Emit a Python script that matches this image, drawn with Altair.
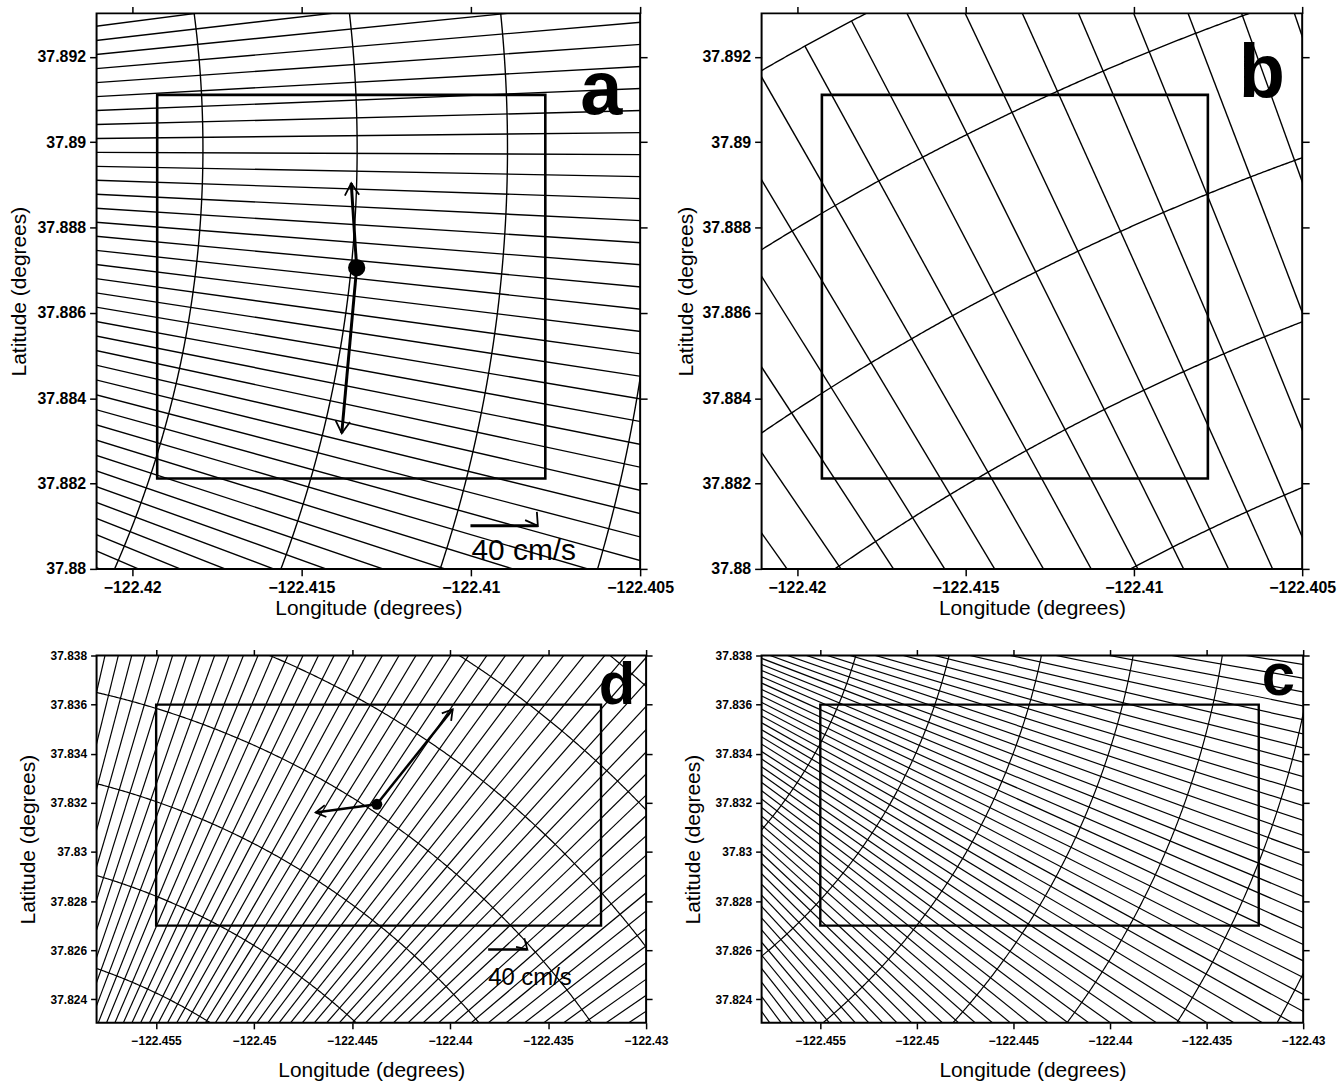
import math
import numpy as np
import pandas as pd
import altair as alt

FONT = "Liberation Sans"

# ---------------- frames and ticks ----------------
AB_LON_DOMAIN = [-122.42105, -122.40500]
AB_LAT_DOMAIN = [37.88000, 37.89302]
AB_LON_TICKS = [-122.42, -122.415, -122.41, -122.405]
AB_LAT_TICKS = [37.88, 37.882, 37.884, 37.886, 37.888, 37.89, 37.892]

CD_LON_DOMAIN = [-122.45804, -122.43000]
CD_LAT_DOMAIN = [37.82304, 37.83800]
CD_LON_TICKS = [-122.455, -122.45, -122.445, -122.44, -122.435, -122.43]
CD_LAT_TICKS = [37.824, 37.826, 37.828, 37.83, 37.832, 37.834, 37.836, 37.838]

# analysis boxes
AB_BOX_LON = [-122.41926, -122.40780]
AB_BOX_LAT = [37.88212, 37.89111]
CD_BOX_LON = [-122.45500, -122.43230]
CD_BOX_LAT = [37.82700, 37.83600]

# radar grids: site (lon, lat), range rings (km), beams (first bearing, step, count), beam length (km)
SITE_A = [-122.44887, 37.88985]
RINGS_A = [2.72, 3.12, 3.51, 3.90]
BEAMS_A = [82.58, 0.85, 38]
BEAM_LEN_A = 12.0

SITE_B = [-122.38087, 37.83617]
RINGS_B = [5.50, 5.90, 6.30, 6.70, 7.10]
BEAMS_B = [324.52, 1.115, 16]
BEAM_LEN_B = 7.10

SITE_C = [-122.47630, 37.84338]
RINGS_C = [2.12, 2.53, 2.94, 3.35, 3.75, 4.16, 4.55]
BEAMS_C = [98.90, 0.85, 55]
BEAM_LEN_C = 12.0

SITE_D = [-122.46756, 37.80364]
RINGS_D = [2.54, 2.94, 3.34, 3.74, 4.14, 4.54, 4.94]
BEAMS_D = [12.93, 0.85, 53]
BEAM_LEN_D = 12.0

# current vectors (panel a and d)
VEC_A_BASE = [-122.41337, 37.88706]
VEC_A_TIP_LON = [-122.41353, -122.41381]
VEC_A_TIP_LAT = [37.88904, 37.88318]
SCALE_A_LON = [-122.41001, -122.40802]
SCALE_A_LAT = [37.88101, 37.88101]
SCALE_A_TEXT = [-122.40998, 37.88043]

VEC_D_BASE = [-122.44374, 37.83194]
VEC_D_TIP_LON = [-122.43987, -122.44686]
VEC_D_TIP_LAT = [37.83581, 37.83161]
SCALE_D_LON = [-122.43806, -122.43606]
SCALE_D_LAT = [37.82603, 37.82603]
SCALE_D_TEXT = [-122.43806, 37.82488]

SCALE_LABEL = "40 cm/s"

LETTERS = {"a": [-122.40615, 37.89065], "b": [-122.40620, 37.89107],
           "c": [-122.43129, 37.83640], "d": [-122.43149, 37.83602]}

CHEVRON = "M-1,-0.6L0,0L-1,0.6"


def to_lonlat(site, r_km, bearing_deg):
    lon0, lat0 = site
    b = np.radians(bearing_deg)
    dx = r_km * np.sin(b)
    dy = r_km * np.cos(b)
    lon = lon0 + dx / (111.32 * math.cos(math.radians(lat0)))
    lat = lat0 + dy / 110.95
    return lon, lat


def grid_frames(site, rings, beams, beam_len):
    start, step, count = beams
    bearings = [start + i * step for i in range(count)]
    rows = []
    for bb in bearings:
        l1, a1 = to_lonlat(site, 0.0, bb)
        l2, a2 = to_lonlat(site, beam_len, bb)
        rows.append({"lon": float(l1), "lat": float(a1), "lon2": float(l2), "lat2": float(a2)})
    rad = pd.DataFrame(rows)
    arcs = []
    span = np.linspace(bearings[0] - 0.5, bearings[-1] + 0.5, 400)
    for k, r in enumerate(rings):
        lo, la = to_lonlat(site, r, span)
        for i in range(len(span)):
            arcs.append({"lon": float(lo[i]), "lat": float(la[i]), "ring": k, "idx": i})
    return rad, pd.DataFrame(arcs)


def screen_angle(base, tip_lon, tip_lat, W, H, lon_dom, lat_dom):
    sx = W / (lon_dom[1] - lon_dom[0])
    sy = H / (lat_dom[1] - lat_dom[0])
    out = []
    for tl, ta in zip(tip_lon, tip_lat):
        dx = (tl - base[0]) * sx
        dy = -(ta - base[1]) * sy
        out.append((math.degrees(math.atan2(dy, dx)) + 360.0) % 360.0)
    return out


def make_panel(W, H, lon_dom, lat_dom, lon_ticks, lat_ticks, site, rings, beams, beam_len,
               box_lon, box_lat, letter, letter_size, st, vec=None):
    xs = alt.Scale(domain=lon_dom, nice=False, zero=False)
    ys = alt.Scale(domain=lat_dom, nice=False, zero=False)
    common = dict(domain=False, grid=False, tickColor="black", tickWidth=1.5,
                  tickSize=st["tick"], labelColor="black", labelFont=FONT,
                  labelFontWeight="bold", labelFontSize=st["lab"], titleFont=FONT,
                  titleFontWeight="normal", titleFontSize=21, titleColor="black",
                  format="~f", labelOverlap=False)
    x_axis = alt.Axis(orient="bottom", values=lon_ticks, title="Longitude (degrees)",
                      labelPadding=st["xlp"], titlePadding=st["xtp"], labelFlush=False, **common)
    y_axis = alt.Axis(orient="left", values=lat_ticks, title="Latitude (degrees)",
                      labelPadding=st["ylp"], titlePadding=st["ytp"], **common)
    mirror = dict(domain=False, grid=False, labels=False, tickColor="black", tickWidth=1.5,
                  tickSize=st["tick"], title=None)
    x_top = alt.Axis(orient="top", values=lon_ticks, **mirror)
    y_right = alt.Axis(orient="right", values=lat_ticks, **mirror)

    rad, arcs = grid_frames(site, rings, beams, beam_len)
    layers = []
    layers.append(alt.Chart(rad).mark_rule(clip=True, color="black", strokeWidth=st["lw"]).encode(
        x=alt.X("lon:Q", scale=xs, axis=x_axis),
        y=alt.Y("lat:Q", scale=ys, axis=y_axis),
        x2="lon2:Q", y2="lat2:Q"))
    layers.append(alt.Chart(arcs).mark_line(clip=True, color="black", strokeWidth=st["lw"]).encode(
        x=alt.X("lon:Q", scale=xs, axis=None),
        y=alt.Y("lat:Q", scale=ys, axis=None),
        detail="ring:N", order="idx:Q"))
    box = pd.DataFrame({"lon": [box_lon[0]], "lon2": [box_lon[1]],
                        "lat": [box_lat[0]], "lat2": [box_lat[1]]})
    layers.append(alt.Chart(box).mark_rect(fillOpacity=0, stroke="black", strokeWidth=st["box"]).encode(
        x=alt.X("lon:Q", scale=xs, axis=None), x2="lon2:Q",
        y=alt.Y("lat:Q", scale=ys, axis=None), y2="lat2:Q"))
    layers.append(alt.Chart(box).mark_point(opacity=0).encode(
        x=alt.X("lon:Q", scale=xs, axis=x_top),
        y=alt.Y("lat:Q", scale=ys, axis=y_right)))

    if vec is not None:
        base, tip_lon, tip_lat, s_lon, s_lat, s_txt, vw, head, dot, fs = vec
        shafts = pd.DataFrame({"lon": [base[0]] * len(tip_lon) + [s_lon[0]],
                               "lat": [base[1]] * len(tip_lon) + [s_lat[0]],
                               "lon2": list(tip_lon) + [s_lon[1]],
                               "lat2": list(tip_lat) + [s_lat[1]]})
        layers.append(alt.Chart(shafts).mark_rule(color="black", strokeWidth=vw).encode(
            x=alt.X("lon:Q", scale=xs, axis=None), x2="lon2:Q",
            y=alt.Y("lat:Q", scale=ys, axis=None), y2="lat2:Q"))
        angs = screen_angle(base, list(tip_lon) + [s_lon[1]], list(tip_lat) + [s_lat[1]],
                            W, H, lon_dom, lat_dom)
        heads = pd.DataFrame({"lon": list(tip_lon) + [s_lon[1]],
                              "lat": list(tip_lat) + [s_lat[1]], "ang": angs})
        layers.append(alt.Chart(heads).mark_point(shape=CHEVRON, filled=False, stroke="black",
                                                  strokeWidth=1.8, size=head, opacity=1).encode(
            x=alt.X("lon:Q", scale=xs, axis=None),
            y=alt.Y("lat:Q", scale=ys, axis=None),
            angle=alt.Angle("ang:Q", scale=None)))
        dots = pd.DataFrame({"lon": [base[0]], "lat": [base[1]]})
        layers.append(alt.Chart(dots).mark_point(shape="circle", filled=True, color="black",
                                                 size=dot, opacity=1).encode(
            x=alt.X("lon:Q", scale=xs, axis=None),
            y=alt.Y("lat:Q", scale=ys, axis=None)))
        txt = pd.DataFrame({"lon": [s_txt[0]], "lat": [s_txt[1]], "t": [SCALE_LABEL]})
        layers.append(alt.Chart(txt).mark_text(font=FONT, fontSize=fs, align="left",
                                               baseline="middle", color="black").encode(
            x=alt.X("lon:Q", scale=xs, axis=None),
            y=alt.Y("lat:Q", scale=ys, axis=None), text="t:N"))

    pos = LETTERS[letter]
    let = pd.DataFrame({"lon": [pos[0]], "lat": [pos[1]], "t": [letter]})
    layers.append(alt.Chart(let).mark_text(font=FONT, fontWeight="bold", fontSize=letter_size,
                                           align="center", baseline="alphabetic",
                                           color="black").encode(
        x=alt.X("lon:Q", scale=xs, axis=None),
        y=alt.Y("lat:Q", scale=ys, axis=None), text="t:N"))

    return alt.layer(*layers).properties(width=W, height=H).resolve_axis(
        x="independent", y="independent")


ST_AB = dict(tick=7, lab=16, xlp=4, xtp=2, ylp=4, ytp=7, lw=1.4, box=2.6)
ST_AB2 = dict(tick=7, lab=16, xlp=4, xtp=2, ylp=4, ytp=5, lw=1.4, box=2.6)
ST_CD = dict(tick=6, lab=12, xlp=7, xtp=13, ylp=4, ytp=12, lw=1.2, box=2.4)

panel_a = make_panel(546, 558, AB_LON_DOMAIN, AB_LAT_DOMAIN, AB_LON_TICKS, AB_LAT_TICKS,
                     SITE_A, RINGS_A, BEAMS_A, BEAM_LEN_A, AB_BOX_LON, AB_BOX_LAT, "a", 76, ST_AB,
                     vec=(VEC_A_BASE, VEC_A_TIP_LON, VEC_A_TIP_LAT, SCALE_A_LON, SCALE_A_LAT,
                          SCALE_A_TEXT, 3, 576, 300, 30))
panel_b = make_panel(543, 558, AB_LON_DOMAIN, AB_LAT_DOMAIN, AB_LON_TICKS, AB_LAT_TICKS,
                     SITE_B, RINGS_B, BEAMS_B, BEAM_LEN_B, AB_BOX_LON, AB_BOX_LAT, "b", 76, ST_AB2)
panel_d = make_panel(552, 369, CD_LON_DOMAIN, CD_LAT_DOMAIN, CD_LON_TICKS, CD_LAT_TICKS,
                     SITE_D, RINGS_D, BEAMS_D, BEAM_LEN_D, CD_BOX_LON, CD_BOX_LAT, "d", 60, ST_CD,
                     vec=(VEC_D_BASE, VEC_D_TIP_LON, VEC_D_TIP_LAT, SCALE_D_LON, SCALE_D_LAT,
                          SCALE_D_TEXT, 2.5, 400, 121, 24))
panel_c = make_panel(544, 369, CD_LON_DOMAIN, CD_LAT_DOMAIN, CD_LON_TICKS, CD_LAT_TICKS,
                     SITE_C, RINGS_C, BEAMS_C, BEAM_LEN_C, CD_BOX_LON, CD_BOX_LAT, "c", 60, ST_CD)

chart = alt.vconcat(
    alt.hconcat(panel_a, panel_b, spacing=0),
    alt.hconcat(panel_d, panel_c, spacing=12),
    spacing=26,
).properties(
    padding={"left": 8, "top": 2, "right": 5, "bottom": 5},
    background="white",
).configure_view(stroke="black", strokeWidth=2)

chart.save("out.html", embed_options={"renderer": "svg", "actions": False})
